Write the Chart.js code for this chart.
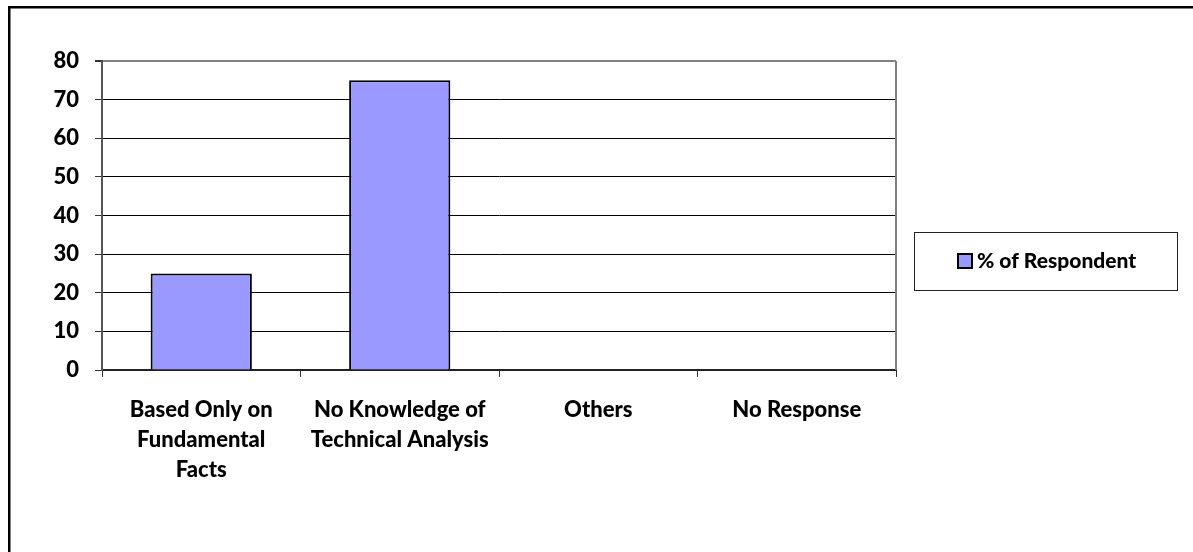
<!DOCTYPE html>
<html lang="en">
<head>
  <meta charset="UTF-8">
  <title>% of Respondent</title>
  <script src="https://cdn.jsdelivr.net/npm/chart.js"></script>
  <style>
    body { margin: 0; background: #fff; }
    canvas { display: block; }
  </style>
</head>
<body>
  <canvas id="grafico" width="1193" height="552"></canvas>

  <script>
    const categories = [
      ['Based Only on', 'Fundamental', 'Facts'],
      ['No Knowledge of', 'Technical Analysis'],
      'Others',
      'No Response'
    ];
    const respondents = [25, 75, 0, 0];
    const seriesName = '% of Respondent';
    const yTicks = [0, 10, 20, 30, 40, 50, 60, 70, 80];

    const FONT = 'Lato, "Open Sans", sans-serif';
    const WEIGHT = '900';
    const barColor = '#9999ff';

    // frame lines, plot border and the boxed legend on the right
    const decor = {
      id: 'decor',
      beforeDraw(chart) {
        const ctx = chart.ctx;
        ctx.save();
        ctx.fillStyle = '#fff';
        ctx.fillRect(0, 0, chart.width, chart.height);
        ctx.fillStyle = '#000';
        ctx.fillRect(8, 6, chart.width - 8, 2.5);
        ctx.fillRect(8, 6, 2.5, chart.height - 6);
        ctx.restore();
      },
      afterDraw(chart) {
        const ctx = chart.ctx;
        const a = chart.chartArea;
        ctx.save();
        ctx.strokeStyle = '#808080';
        ctx.lineWidth = 2;
        ctx.beginPath();
        ctx.moveTo(a.right, a.top);
        ctx.lineTo(a.right, a.bottom);
        ctx.stroke();

        // legend box
        const ds = chart.data.datasets[0];
        ctx.strokeStyle = '#222';
        ctx.lineWidth = 1;
        ctx.strokeRect(914.5, 232.5, 263, 58);
        ctx.fillStyle = ds.backgroundColor;
        ctx.fillRect(958, 254, 14, 14);
        ctx.strokeStyle = '#000';
        ctx.lineWidth = 2;
        ctx.strokeRect(958, 254, 14, 14);
        ctx.fillStyle = '#000';
        ctx.font = WEIGHT + ' 21px ' + FONT;
        ctx.textAlign = 'left';
        ctx.textBaseline = 'middle';
        ctx.fillText(ds.label, 977, 261);
        ctx.restore();
      }
    };

    new Chart(document.getElementById('grafico'), {
      type: 'bar',
      data: {
        labels: categories,
        datasets: [{
          label: seriesName,
          data: respondents,
          backgroundColor: barColor,
          borderColor: '#000',
          borderWidth: 2,
          barPercentage: 0.51,
          categoryPercentage: 1.0
        }]
      },
      options: {
        responsive: false,
        animation: false,
        layout: { padding: { top: 61, right: 297, bottom: 0, left: 0 } },
        plugins: {
          legend: { display: false },
          tooltip: { enabled: false }
        },
        scales: {
          x: {
            offset: true,
            afterFit: s => { s.height = 182; },
            grid: {
              drawOnChartArea: false,
              drawTicks: true,
              tickLength: 7,
              color: '#333',
              offset: true
            },
            border: { color: '#222', width: 2 },
            ticks: {
              color: '#000',
              padding: 18,
              maxRotation: 0,
              autoSkip: false,
              font: { family: FONT, size: 22, weight: WEIGHT, lineHeight: 1.36 }
            }
          },
          y: {
            min: 0,
            max: 80,
            afterFit: s => { s.width = 102; },
            afterBuildTicks: s => { s.ticks = yTicks.map(v => ({ value: v })); },
            grid: {
              color: c => c.tick && c.tick.value === 80 ? '#808080' : '#000',
              lineWidth: c => c.tick && c.tick.value === 80 ? 2 : 1,
              tickLength: 7,
              tickColor: '#333'
            },
            border: { color: '#555', width: 2 },
            ticks: {
              color: '#000',
              padding: 16,
              font: { family: FONT, size: 22, weight: WEIGHT }
            }
          }
        }
      },
      plugins: [decor]
    });
  </script>
</body>
</html>
